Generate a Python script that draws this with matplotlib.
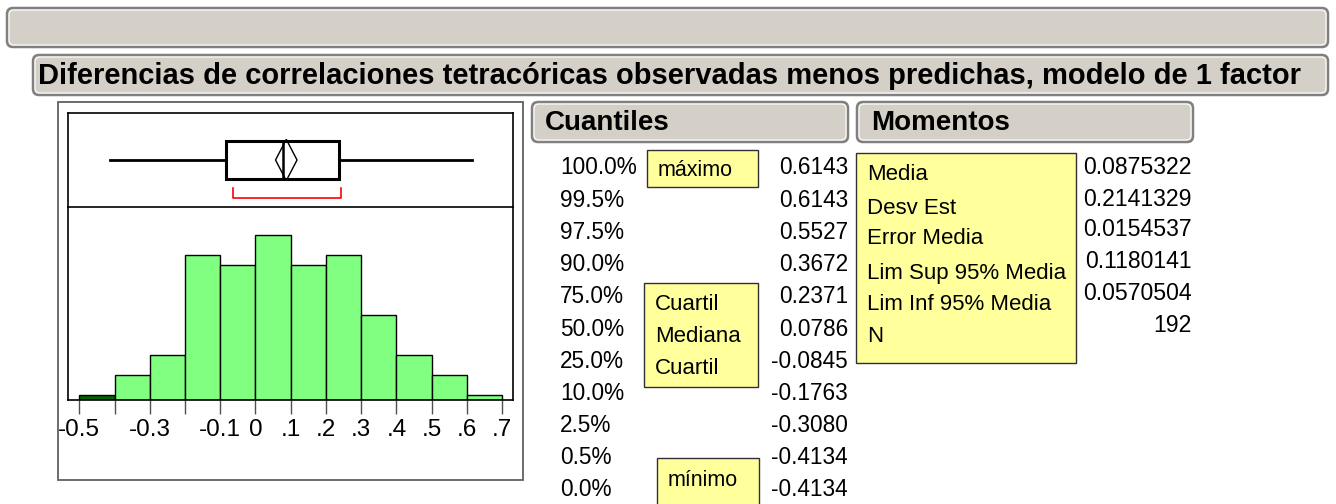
import numpy as np
import matplotlib
matplotlib.use('Agg')
import matplotlib.pyplot as plt
from matplotlib.patches import FancyBboxPatch, Rectangle, Polygon

plt.rcParams['font.family'] = ['Liberation Sans', 'DejaVu Sans']

W, H = 1336, 504

# --- datos ---
bin_edges = [-0.5, -0.4, -0.3, -0.2, -0.1, 0.0, 0.1, 0.2, 0.3, 0.4, 0.5, 0.6, 0.7]
counts = [1, 5, 9, 29, 27, 33, 27, 29, 17, 9, 5, 1]
tick_labels = ['-0.5', '', '-0.3', '', '-0.1', '0', '.1', '.2', '.3', '.4', '.5', '.6', '.7']

quant_levels = ['100.0%', '99.5%', '97.5%', '90.0%', '75.0%', '50.0%',
                '25.0%', '10.0%', '2.5%', '0.5%', '0.0%']
quant_values = [0.6143, 0.6143, 0.5527, 0.3672, 0.2371, 0.0786,
                -0.0845, -0.1763, -0.3080, -0.4134, -0.4134]

moment_names = ['Media', 'Desv Est', 'Error Media', 'Lim Sup 95% Media',
                'Lim Inf 95% Media', 'N']
moment_values = ['0.0875322', '0.2141329', '0.0154537', '0.1180141',
                 '0.0570504', '192']

shortest_half = [-0.064, 0.243]

title = 'Diferencias de correlaciones tetracóricas observadas menos predichas, modelo de 1 factor'

q_max, q3, med, q1, q_min = quant_values[0], quant_values[4], quant_values[5], quant_values[6], quant_values[-1]
mean = float(moment_values[0])
ucl = float(moment_values[3])
lcl = float(moment_values[4])

fig = plt.figure(figsize=(W / 100, H / 100), dpi=100)


def px_axes(x0, y0, x1, y1):
    return fig.add_axes([x0 / W, 1 - y1 / H, (x1 - x0) / W, (y1 - y0) / H])


# fondo en pixeles
bg = fig.add_axes([0, 0, 1, 1])
bg.set_xlim(0, W)
bg.set_ylim(H, 0)
bg.axis('off')

gray_face = '#D4D0C8'
gray_edge = '#808080'
yellow = '#FFFF9C'


def header(x0, y0, x1, y1):
    bg.add_patch(FancyBboxPatch((x0, y0), x1 - x0, y1 - y0,
                                boxstyle='round,pad=0,rounding_size=6',
                                fc=gray_face, ec=gray_edge, lw=1.8))
    bg.add_patch(FancyBboxPatch((x0 + 2, y0 + 2), x1 - x0 - 4, y1 - y0 - 4,
                                boxstyle='round,pad=0,rounding_size=5',
                                fc='none', ec='white', lw=0.8))


def ybox(x0, y0, x1, y1):
    bg.add_patch(Rectangle((x0, y0), x1 - x0, y1 - y0, fc=yellow, ec='#303030', lw=1))


header(7, 8, 1328, 47)
header(33, 55, 1328, 95)
bg.text(38, 76, title, fontsize=21, fontweight='bold', va='center', ha='left')

header(532, 102, 848, 142)
bg.text(545, 123, 'Cuantiles', fontsize=20, fontweight='bold', va='center')
header(857, 102, 1193, 142)
bg.text(871, 123, 'Momentos', fontsize=20, fontweight='bold', va='center')

# marco exterior del grafico
bg.add_patch(Rectangle((58, 102), 523 - 58, 480 - 102, fc='none', ec='#606060', lw=1.3))

# tabla de cuantiles
ybox(647, 150, 758, 187)
bg.text(658, 171, 'máximo', fontsize=15.5, va='center')
ybox(644, 283, 758, 387)
for txt, yy in zip(['Cuartil', 'Mediana', 'Cuartil'], [304, 337, 369]):
    bg.text(655, yy, txt, fontsize=16, va='center')
ybox(657, 458, 759, 510)
bg.text(668, 480, 'mínimo', fontsize=15.5, va='center')

row_y = np.linspace(168, 490, len(quant_levels))
for lev, val, yy in zip(quant_levels, quant_values, row_y):
    bg.text(560, yy, lev, fontsize=16.3, va='center', ha='left')
    bg.text(848, yy, '%.4f' % val, fontsize=16.3, va='center', ha='right')

# momentos
ybox(856, 153, 1076, 363)
lab_y = [175, 208, 239, 273, 304, 337]
val_y = [167, 199, 230, 262, 293, 325]
for name, yy in zip(moment_names, lab_y):
    bg.text(867, yy, name, fontsize=16, va='center', ha='left')
for val, yy in zip(moment_values, val_y):
    bg.text(1192, yy, val, fontsize=16.6, va='center', ha='right')

# --- histograma ---
xlim = (-0.532, 0.731)
ax_h = px_axes(68, 207, 513, 399.5)
bar_colors = ['#006400'] + ['#80FF80'] * (len(counts) - 1)
ax_h.bar(bin_edges[:-1], counts, width=np.diff(bin_edges), align='edge',
         color=bar_colors, edgecolor='black', linewidth=1)
ax_h.set_xlim(*xlim)
ax_h.set_ylim(0, 38.6)
ax_h.set_yticks([])
ax_h.set_xticks(bin_edges)
ax_h.set_xticklabels(tick_labels)
ax_h.tick_params(axis='x', direction='out', length=10, width=1, color='#505050',
                 pad=4, labelsize=17.5)
ax_h.spines['top'].set_visible(False)
for s in ['left', 'right', 'bottom']:
    ax_h.spines[s].set_linewidth(1.2)
ax_h.patch.set_alpha(0)

# --- diagrama de caja ---
ax_b = px_axes(68, 113, 513, 207)
ax_b.set_xlim(*xlim)
ax_b.set_ylim(0, 1)
ax_b.set_xticks([])
ax_b.set_yticks([])
for s in ax_b.spines.values():
    s.set_linewidth(1.2)
ax_b.plot([q_min, q1], [0.5, 0.5], color='black', lw=2)
ax_b.plot([q3, q_max], [0.5, 0.5], color='black', lw=2)
ax_b.add_patch(Rectangle((q1, 0.3), q3 - q1, 0.4, fc='none', ec='black', lw=2.2))
ax_b.plot([med, med], [0.3, 0.7], color='black', lw=1.8)
ax_b.add_patch(Polygon([(lcl, 0.5), (mean, 0.72), (ucl, 0.5), (mean, 0.28)],
                       closed=True, fc='none', ec='black', lw=1))
ax_b.plot([shortest_half[0], shortest_half[0], shortest_half[1], shortest_half[1]],
          [0.2, 0.1, 0.1, 0.2], color='red', lw=1.2)
ax_b.patch.set_alpha(0)

fig.savefig('out.png', dpi=100)
